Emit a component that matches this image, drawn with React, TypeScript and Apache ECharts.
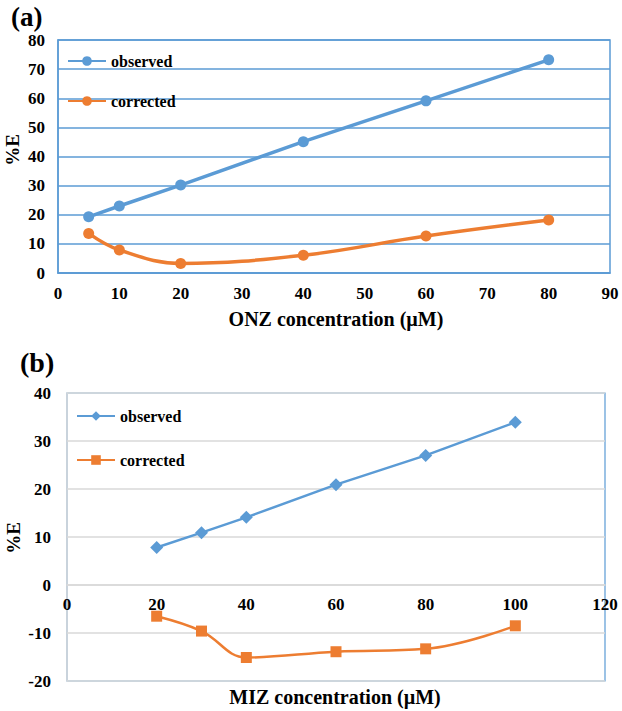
import React, { useEffect, useRef } from "react";
import * as echarts from "echarts";

const onzX = [5, 10, 20, 40, 60, 80];
const onzObserved = [19.3, 23.0, 30.2, 45.1, 59.1, 73.2];
const onzCorrected = [13.6, 7.9, 3.3, 6.1, 12.7, 18.2];

const mizX = [20, 30, 40, 60, 80, 100];
const mizObserved = [7.8, 10.9, 14.1, 20.9, 27.0, 33.9];
const mizCorrected = [-6.5, -9.6, -15.1, -13.9, -13.3, -8.5];

const BLUE = "#5b9bd5";
const ORANGE = "#ed7d31";
const FONT = "Liberation Serif";

const pairs = (xs: number[], ys: number[]) => xs.map((x, i) => [x, ys[i]]);

export default function App() {
  const ref = useRef<HTMLDivElement>(null);
  useEffect(() => {
    if (!ref.current) return;
    const chart = echarts.init(ref.current, undefined, { renderer: "svg" });
    const label = { color: "#000", fontFamily: FONT, fontWeight: "bold" as const, fontSize: 17 };
    const legendText = { color: "#000", fontFamily: FONT, fontWeight: "bold" as const, fontSize: 16 };
    chart.setOption({
      animation: false,
      backgroundColor: "#fff",
      textStyle: { fontFamily: FONT },
      grid: [
        { left: 58, top: 40, width: 552, height: 233, show: true, borderColor: BLUE, borderWidth: 1.5, backgroundColor: "transparent" },
        { left: 67, top: 393, width: 538, height: 288, show: true, borderColor: BLUE, borderWidth: 1.2, backgroundColor: "transparent" },
      ],
      legend: [
        {
          orient: "vertical", left: 62, top: 48, itemWidth: 38, itemHeight: 12, itemGap: 24,
          textStyle: legendText, data: ["observed", "corrected"],
        },
        {
          orient: "vertical", left: 71, top: 403, itemWidth: 38, itemHeight: 12, itemGap: 28,
          textStyle: legendText, data: ["observed ", "corrected "],
        },
      ],
      xAxis: [
        {
          gridIndex: 0, type: "value", min: 0, max: 90, interval: 10,
          axisLine: { show: true, lineStyle: { color: BLUE, width: 1.5 } },
          axisTick: { show: false }, splitLine: { show: false },
          axisLabel: { ...label, margin: 12 },
        },
        {
          gridIndex: 1, type: "value", min: 0, max: 120, interval: 20, position: "bottom", offset: -96,
          axisLine: { show: true, onZero: false, lineStyle: { color: "#d9d9d9", width: 1.5 } },
          axisTick: { show: false }, splitLine: { show: false },
          axisLabel: { ...label, margin: 11 },
        },
      ],
      yAxis: [
        {
          gridIndex: 0, type: "value", min: 0, max: 80, interval: 10,
          axisLine: { show: true, lineStyle: { color: BLUE, width: 1.5 } },
          axisTick: { show: false },
          splitLine: { show: true, lineStyle: { color: BLUE, width: 1.5 } },
          axisLabel: { ...label, margin: 13 },
        },
        {
          gridIndex: 1, type: "value", min: -20, max: 40, interval: 10,
          axisLine: { show: true, onZero: false, lineStyle: { color: "#d9d9d9", width: 1.5 } },
          axisTick: { show: false },
          splitLine: { show: true, lineStyle: { color: "#d9d9d9", width: 1.5 } },
          axisLabel: { ...label, margin: 16 },
        },
      ],
      series: [
        {
          name: "observed", type: "line", xAxisIndex: 0, yAxisIndex: 0,
          data: pairs(onzX, onzObserved), symbol: "circle", symbolSize: 11,
          itemStyle: { color: BLUE }, lineStyle: { color: BLUE, width: 3.5 },
        },
        {
          name: "corrected", type: "line", xAxisIndex: 0, yAxisIndex: 0,
          data: pairs(onzX, onzCorrected), symbol: "circle", symbolSize: 11, smooth: 0.4,
          itemStyle: { color: ORANGE }, lineStyle: { color: ORANGE, width: 3.5 },
        },
        {
          name: "observed ", type: "line", xAxisIndex: 1, yAxisIndex: 1,
          data: pairs(mizX, mizObserved), symbol: "diamond", symbolSize: 13,
          itemStyle: { color: BLUE }, lineStyle: { color: BLUE, width: 2.5 },
        },
        {
          name: "corrected ", type: "line", xAxisIndex: 1, yAxisIndex: 1,
          data: pairs(mizX, mizCorrected), symbol: "rect", symbolSize: 11, smooth: 0.4,
          itemStyle: { color: ORANGE }, lineStyle: { color: ORANGE, width: 2.5 },
        },
      ],
      graphic: [
        { type: "text", left: 11, top: 3, style: { text: "(a)", font: `bold 27px ${FONT}`, fill: "#000" } },
        { type: "text", left: 20, top: 348, style: { text: "(b)", font: `bold 28px ${FONT}`, fill: "#000" } },
        {
          type: "text", x: 12, y: 150, rotation: Math.PI / 2,
          style: { text: "%E", font: `bold 19px ${FONT}`, fill: "#000", align: "center", verticalAlign: "middle" },
        },
        {
          type: "text", x: 13, y: 538, rotation: Math.PI / 2,
          style: { text: "%E", font: `bold 19px ${FONT}`, fill: "#000", align: "center", verticalAlign: "middle" },
        },
        {
          type: "text", x: 336, y: 319,
          style: { text: "ONZ concentration (µM)", font: `bold 20px ${FONT}`, fill: "#000", align: "center", verticalAlign: "middle" },
        },
        {
          type: "text", x: 335, y: 697,
          style: { text: "MIZ concentration (µM)", font: `bold 20px ${FONT}`, fill: "#000", align: "center", verticalAlign: "middle" },
        },
      ],
    });
    return () => chart.dispose();
  }, []);
  return <div ref={ref} style={{ position: "fixed", left: 0, top: 0, width: 622, height: 711 }} />;
}
